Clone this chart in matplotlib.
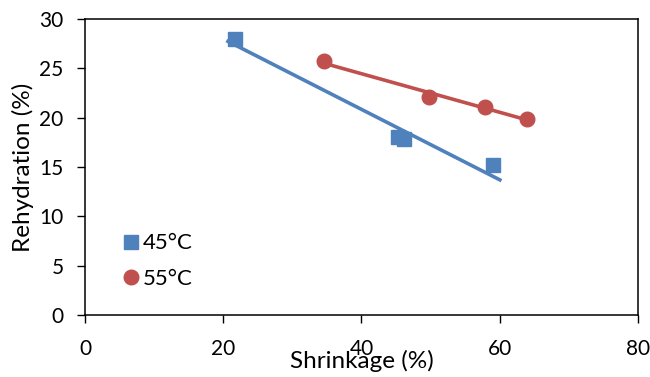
import numpy as np
import matplotlib.pyplot as plt

plt.rcParams["font.family"] = ["Lato", "DejaVu Sans"]

# shrinkage vs rehydration at two drying temperatures
shrink_45 = [21.7, 45.3, 46.2, 59.0]
rehyd_45 = [28.0, 18.0, 17.8, 15.2]
shrink_55 = [34.6, 49.7, 57.9, 63.9]
rehyd_55 = [25.7, 22.1, 21.1, 19.9]

x_ticks = [0, 20, 40, 60, 80]
y_ticks = [0, 5, 10, 15, 20, 25, 30]

blue = "#4F81BD"
red = "#C0504D"

fig = plt.figure(figsize=(6.5, 3.77), dpi=100)
ax = fig.add_axes([0.1308, 0.1645, 0.8507, 0.7851])


def trend(x, y, ext=0.0):
    # least squares straight line over the data range
    k, b = np.polyfit(x, y, 1)
    xs = np.array([min(x) - ext, max(x) + ext])
    return xs, k * xs + b


xs, ys = trend(shrink_45, rehyd_45, ext=1.25)
ax.plot(xs, ys, color=blue, lw=2.6, solid_capstyle="butt", zorder=2)
xs, ys = trend(shrink_55, rehyd_55)
ax.plot(xs, ys, color=red, lw=2.6, solid_capstyle="butt", zorder=2)

ax.plot(shrink_45, rehyd_45, "s", color=blue, ms=10, ls="none", label="45°C", zorder=3)
ax.plot(shrink_55, rehyd_55, "o", color=red, ms=10.5, ls="none", label="55°C", zorder=3)

ax.set_xlim(0, 80)
ax.set_ylim(0, 30)
ax.set_xticks(x_ticks)
ax.set_yticks(y_ticks)
ax.tick_params(direction="out", length=5.5, width=1, labelsize=15, colors="black")
ax.tick_params(axis="x", pad=12)
ax.tick_params(axis="y", pad=10)
for s in ax.spines.values():
    s.set_linewidth(1.1)
    s.set_color("black")

ax.set_xlabel("Shrinkage (%)", fontsize=17.5)
ax.xaxis.set_label_coords(0.5, -0.118)
ax.set_ylabel("Rehydration (%)", fontsize=17.5)
ax.yaxis.set_label_coords(-0.092, 0.5)

ax.legend(loc="center left", bbox_to_anchor=(0.045, 0.182), frameon=False,
          fontsize=16, handletextpad=0.0, handlelength=1.1, labelspacing=0.7,
          borderaxespad=0)

fig.savefig("out.png", dpi=100)
